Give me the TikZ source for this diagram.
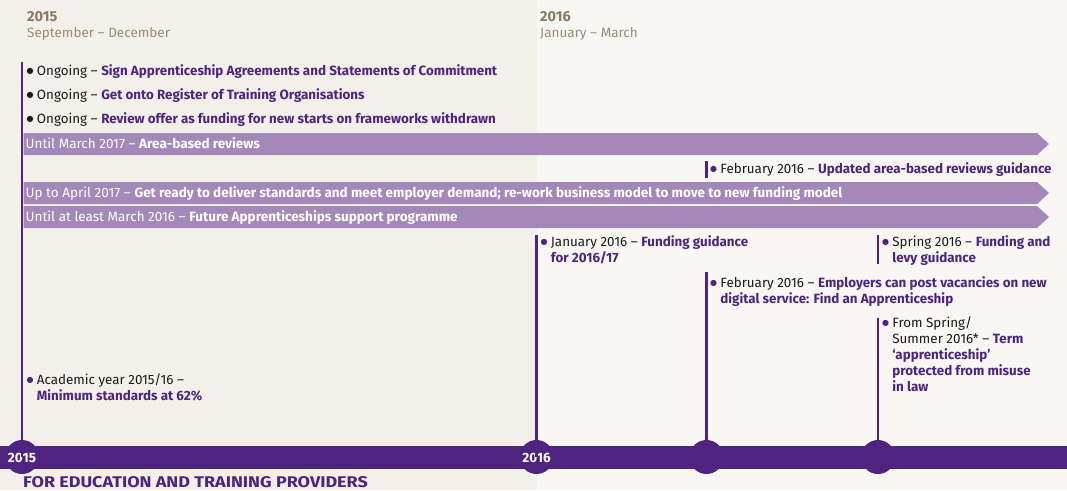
\documentclass[tikz,border=0pt]{standalone}
\usepackage{fontspec}
\setmainfont{Fira Sans}
\newfontfamily\djv{DejaVu Sans}
\definecolor{pp}{HTML}{4F2480}
\definecolor{barc}{HTML}{A388B9}
\definecolor{bgl}{HTML}{F3F0EA}
\definecolor{bgr}{HTML}{F8F7F4}
\definecolor{tan}{HTML}{8B7A62}
\definecolor{tanl}{HTML}{9A8B76}
\definecolor{ink}{HTML}{1A1A1A}
\tikzset{
  txt/.style={anchor=base west, inner sep=0pt, align=left, font=\fontsize{13.4}{16}\selectfont, text=ink},
  bartxt/.style={anchor=base west, inner sep=0pt, font=\fontsize{13.5}{16}\selectfont, text=white},
  vline/.style={draw=pp, line width=2.5pt},
  dot/.style={circle, fill=pp, minimum size=34pt, inner sep=0pt},
  barshape/.style={fill=barc},
  yr/.style={font=\bfseries\fontsize{13.5}{14}\selectfont, text=white, inner sep=0pt}
}
\newcommand{\hl}[1]{\textbf{\color{pp}#1}}
\newcommand{\bk}{\raisebox{1.6pt}{\djv\fontsize{8}{8}\selectfont ●}\hspace{3.2pt}}
\newcommand{\pb}{\raisebox{1.6pt}{\color{pp}\djv\fontsize{8}{8}\selectfont ●}\hspace{3.2pt}}
\newcommand{\ind}{\hphantom{\pb}}
\begin{document}
\begin{tikzpicture}[x=1pt,y=-1pt]
\useasboundingbox (0,0) rectangle (1067,490);
\fill[bgr] (0,0) rectangle (1067,490);
\fill[bgl] (0,0) rectangle (536.5,490);
% headers
\node[anchor=base west, inner sep=0pt, font=\bfseries\fontsize{14.5}{16}\selectfont, text=tan] (h15) at (27,21) {2015};
\node[anchor=base west, inner sep=0pt, font=\fontsize{13.5}{16}\selectfont, text=tanl] (s15) at (27,37) {September -- December};
\node[anchor=base west, inner sep=0pt, font=\bfseries\fontsize{14.5}{16}\selectfont, text=tan] (h16) at (540,21) {2016};
\node[anchor=base west, inner sep=0pt, font=\fontsize{13.5}{16}\selectfont, text=tanl] (s16) at (540,37) {January -- March};
% timeline bar and circles
\fill[pp] (0,446) rectangle (1067,469);
\node[dot] (c15) at (22,457) {};
\node[dot] (c16) at (536.5,457) {};
\node[dot] (cfeb) at (706.5,457) {};
\node[dot] (cspr) at (878,457) {};
\node[yr] (l15) at (22,457.5) {2015};
\node[yr] (l16) at (536.5,457.5) {2016};
% vertical connectors
\coordinate (t15) at (22,62);
\coordinate (t16) at (536.5,235);
\coordinate (tfeb) at (706.5,272);
\coordinate (tspr) at (878,318);
\draw[vline] (t15) -- (c15.center);
\draw[vline] (t16) -- (c16.center);
\draw[vline] (tfeb) -- (cfeb.center);
\draw[vline] (tspr) -- (cspr.center);
\coordinate (fa) at (706.5,161);
\coordinate (fb) at (706.5,178);
\draw[vline] (fa) -- (fb);
\coordinate (sa) at (878,235);
\coordinate (sb) at (878,264);
\draw[vline] (sa) -- (sb);
% ongoing items
\node[txt] (o1) at (26.5,75) {\bk Ongoing -- \hl{Sign Apprenticeship Agreements and Statements of Commitment}};
\node[txt] (o2) at (26.5,99) {\bk Ongoing -- \hl{Get onto Register of Training Organisations}};
\node[txt] (o3) at (26.5,123.5) {\bk Ongoing -- \hl{Review offer as funding for new starts on frameworks withdrawn}};
% bars
\fill[barshape] (23.5,133) -- (1037,133) -- (1049,144) -- (1037,155) -- (23.5,155) -- cycle;
\node[bartxt] (b1) at (25.5,148.5) {Until March 2017 -- \textbf{Area-based reviews}};
\node[txt] (f1) at (710,173.5) {\pb February 2016 -- \hl{Updated area-based reviews guidance}};
\fill[barshape] (23.5,182) -- (1037,182) -- (1049,193) -- (1037,204) -- (23.5,204) -- cycle;
\node[bartxt] (b2) at (25.5,197.5) {Up to April 2017 -- \textbf{Get ready to deliver standards and meet employer demand; re-work business model to move to new funding model}};
\fill[barshape] (23.5,206) -- (1037,206) -- (1049,217) -- (1037,228) -- (23.5,228) -- cycle;
\node[bartxt] (b3) at (25.5,221.5) {Until at least March 2016 -- \textbf{Future Apprenticeships support programme}};
% events (base anchor = baseline of the last line)
\node[txt] (j1) at (540.5,262.5) {\pb January 2016 -- \hl{Funding guidance}\\\ind\hl{for 2016/17}};
\node[txt] (sp) at (882,262.5) {\pb Spring 2016 -- \hl{Funding and}\\\ind\hl{levy guidance}};
\node[txt] (fe) at (710,303.5) {\pb February 2016 -- \hl{Employers can post vacancies on new}\\\ind\hl{digital service: Find an Apprenticeship}};
\node[txt] (fs) at (882,391.5) {\pb From Spring/\\\ind Summer 2016* -- \hl{Term}\\\ind\hl{‘apprenticeship’}\\\ind\hl{protected from misuse}\\\ind\hl{in law}};
\node[txt] (ay) at (26.5,400) {\pb Academic year 2015/16 --\\\ind\hl{Minimum standards at 62\%}};
% footer
\node[anchor=base west, inner sep=0pt, font=\bfseries\fontsize{15.5}{16}\selectfont\addfontfeature{FakeStretch=1.16}, text=pp] (ft) at (23,487.5) {FOR EDUCATION AND TRAINING PROVIDERS};
\end{tikzpicture}
\end{document}
